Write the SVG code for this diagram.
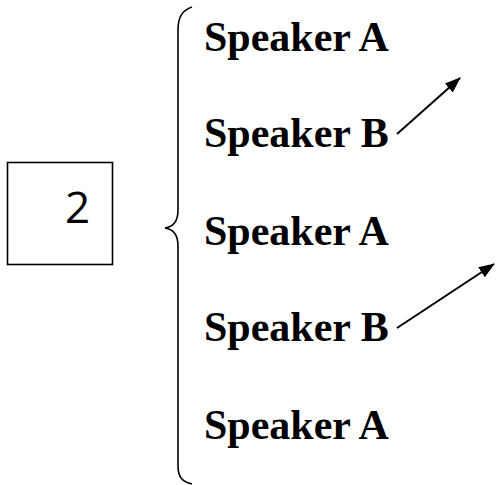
<svg xmlns="http://www.w3.org/2000/svg" width="497" height="485" viewBox="0 0 497 485">
  <style>
    .spk { font-family: "Liberation Serif", "Times New Roman", serif; font-weight: bold; font-size: 42px; fill: #000; }
    .num { font-family: "Open Sans", "Noto Sans", sans-serif; font-size: 44px; fill: #000; }
    .line { fill: none; stroke: #000; stroke-width: 1.6; }
    .arrow { fill: none; stroke: #000; stroke-width: 2; }
  </style>
  <defs>
    <marker id="head" viewBox="0 0 16 12" refX="15" refY="6" markerWidth="16" markerHeight="12" orient="auto" markerUnits="userSpaceOnUse">
      <path d="M0,0 L16,6 L0,12 z" fill="#000"/>
    </marker>
  </defs>
  <rect width="497" height="485" fill="#fff"/>

  <g id="box">
    <rect x="7.5" y="162.5" width="105" height="102" class="line"/>
    <text x="65" y="223" class="num">2</text>
  </g>

  <g id="brace">
    <path class="line" d="M192,7 C183,10 178,16 178,30 L178,210 C178,222 172,227 165,228 C172,229 178,234 178,246 L178,466 C178,478 183,482 192,484"/>
  </g>

  <g id="speaker-a-1"><text x="204" y="51" class="spk">Speaker A</text></g>
  <g id="speaker-b-1"><text x="204" y="147" class="spk">Speaker B</text></g>
  <g id="speaker-a-2"><text x="204" y="245" class="spk">Speaker A</text></g>
  <g id="speaker-b-2"><text x="204" y="341" class="spk">Speaker B</text></g>
  <g id="speaker-a-3"><text x="204" y="439" class="spk">Speaker A</text></g>

  <g id="connectors">
    <line x1="397" y1="134" x2="460" y2="78" class="arrow" marker-end="url(#head)"/>
    <line x1="397" y1="328" x2="494" y2="264" class="arrow" marker-end="url(#head)"/>
  </g>
</svg>
